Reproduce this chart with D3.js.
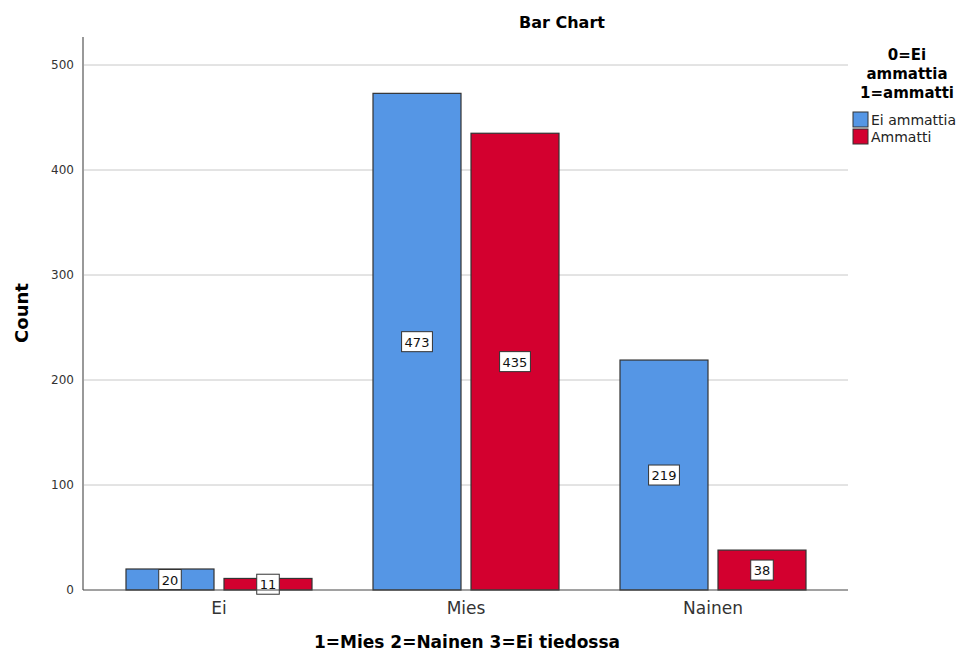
<!DOCTYPE html>
<html>
<head>
<meta charset="utf-8">
<script src="https://cdn.jsdelivr.net/npm/d3@7"></script>
<style>
  body { margin: 0; background: #fff; }
  svg { font-family: "DejaVu Sans", Arial, sans-serif; }
</style>
</head>
<body>
<svg id="chart" width="970" height="652"></svg>
<script>
// data
const categories = ["Ei", "Mies", "Nainen"]
const seriesNames = ["Ei ammattia", "Ammatti"]
const eiAmmattia = [20, 473, 219]
const ammatti = [11, 435, 38]
const yTicks = [0, 100, 200, 300, 400, 500]
const colors = ["#5596e5", "#d3002f"]

const svg = d3.select("#chart")

const plotLeft = 83, plotRight = 848, plotTop = 37, plotBottom = 590

const x = d3.scaleBand().domain(categories).range([95.5, 836.5])
const y = d3.scaleLinear().domain([0, 500]).range([plotBottom, 65])

const rows = categories.map((c, i) => ({cat: c, vals: [eiAmmattia[i], ammatti[i]]}))

// gridlines
svg.append("g").selectAll("line")
  .data(yTicks.filter(t => t > 0))
  .enter().append("line")
  .attr("x1", plotLeft).attr("x2", plotRight)
  .attr("y1", d => y(d)).attr("y2", d => y(d))
  .attr("stroke", "#c8c8c8").attr("stroke-width", 1)

// y axis
const yAxis = svg.append("g")
  .attr("transform", `translate(${plotLeft},0)`)
  .call(d3.axisLeft(y).tickValues(yTicks).tickSize(0).tickPadding(9))
yAxis.select(".domain").remove()
yAxis.selectAll("text").attr("font-size", 12).attr("fill", "#333")
  .attr("font-family", "DejaVu Sans, sans-serif")
svg.append("line")
  .attr("x1", plotLeft).attr("x2", plotLeft).attr("y1", plotTop).attr("y2", plotBottom)
  .attr("stroke", "#999").attr("stroke-width", 2)

// bars
const barW = 88, gap = 10
const groups = svg.append("g").selectAll("g")
  .data(rows)
  .enter().append("g")
  .attr("transform", d => `translate(${x(d.cat) + x.bandwidth() / 2},0)`)

const bars = groups.selectAll("g")
  .data(d => d.vals.map((v, j) => ({v: v, j: j})))
  .enter().append("g")

bars.append("rect")
  .attr("x", d => d.j === 0 ? -gap / 2 - barW : gap / 2)
  .attr("width", barW)
  .attr("y", d => y(d.v))
  .attr("height", d => plotBottom - y(d.v))
  .attr("fill", d => colors[d.j])
  .attr("stroke", "#333").attr("stroke-width", 1.2)

// value labels
bars.each(function(d) {
  const g = d3.select(this)
  const cx = d.j === 0 ? -gap / 2 - barW / 2 : gap / 2 + barW / 2
  const cy = (y(d.v) + plotBottom) / 2
  const box = g.append("rect")
  const t = g.append("text")
    .attr("x", cx).attr("y", cy + 5)
    .attr("text-anchor", "middle")
    .attr("font-size", 13).attr("fill", "#111")
    .text(d.v)
  const w = t.node().getComputedTextLength() + 6
  box.attr("x", cx - w / 2).attr("y", cy - 10)
    .attr("width", w).attr("height", 20)
    .attr("fill", "#fff").attr("stroke", "#333").attr("stroke-width", 1)
})

// x axis
svg.append("line")
  .attr("x1", plotLeft).attr("x2", plotRight).attr("y1", plotBottom).attr("y2", plotBottom)
  .attr("stroke", "#444").attr("stroke-width", 1)
svg.append("g").selectAll("text")
  .data(categories)
  .enter().append("text")
  .attr("x", d => x(d) + x.bandwidth() / 2)
  .attr("y", 614)
  .attr("text-anchor", "middle")
  .attr("font-size", 17).attr("fill", "#333")
  .text(d => d)

// titles
svg.append("text")
  .attr("x", 562).attr("y", 28)
  .attr("text-anchor", "middle")
  .attr("font-size", 16).attr("font-weight", "bold")
  .text("Bar Chart")

svg.append("text")
  .attr("x", 467).attr("y", 648)
  .attr("text-anchor", "middle")
  .attr("font-size", 17).attr("font-weight", "bold")
  .text("1=Mies 2=Nainen 3=Ei tiedossa")

svg.append("text")
  .attr("transform", "translate(28,313) rotate(-90)")
  .attr("text-anchor", "middle")
  .attr("font-size", 18).attr("font-weight", "bold")
  .text("Count")

// legend
const legTitle = ["0=Ei", "ammattia", "1=ammatti"]
svg.append("g").selectAll("text")
  .data(legTitle)
  .enter().append("text")
  .attr("x", 907).attr("y", (d, i) => 60 + i * 19)
  .attr("text-anchor", "middle")
  .attr("font-size", 15).attr("font-weight", "bold")
  .text(d => d)

const leg = svg.append("g").selectAll("g")
  .data(seriesNames)
  .enter().append("g")
  .attr("transform", (d, i) => `translate(853,${112 + i * 17})`)
leg.append("rect")
  .attr("width", 15).attr("height", 15)
  .attr("fill", (d, i) => colors[i])
  .attr("stroke", "#333").attr("stroke-width", 1)
leg.append("text")
  .attr("x", 18).attr("y", 13)
  .attr("font-size", 14).attr("fill", "#222")
  .text(d => d)
</script>
</body>
</html>
